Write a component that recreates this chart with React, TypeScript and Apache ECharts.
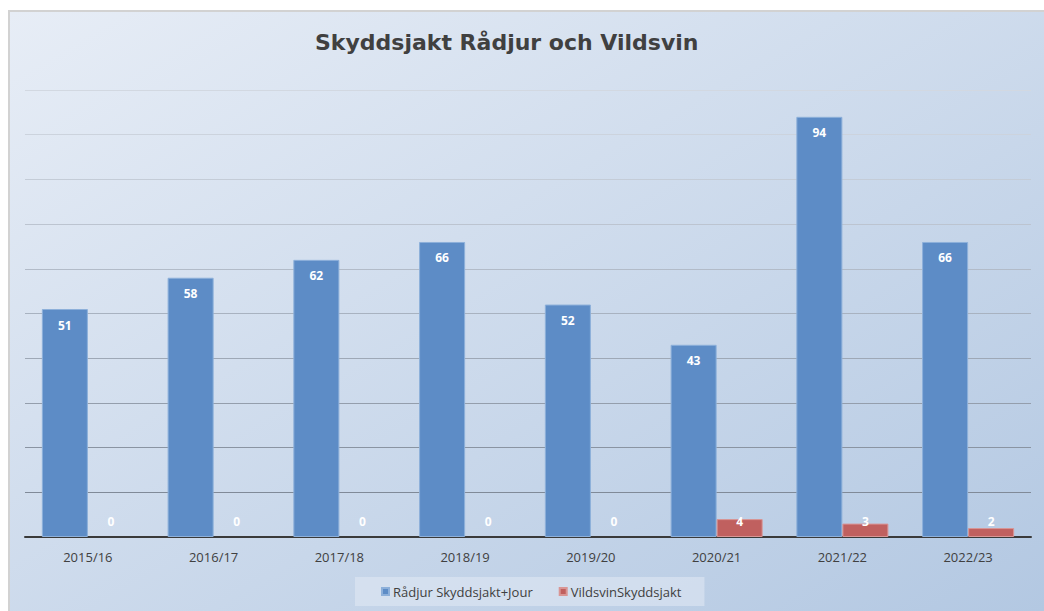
import React, { useEffect, useRef } from "react";
import * as echarts from "echarts";

const categories = ["2015/16", "2016/17", "2017/18", "2018/19", "2019/20", "2020/21", "2021/22", "2022/23"];
const radjur = [51, 58, 62, 66, 52, 43, 94, 66];
const vildsvin = [0, 0, 0, 0, 0, 4, 3, 2];
const seriesNames = ["Rådjur Skyddsjakt+Jour", "VildsvinSkyddsjakt"];
const titleText = "Skyddsjakt Rådjur och Vildsvin";

const FONT = "'Open Sans', 'Liberation Sans', sans-serif";
const TITLE_FONT = "'DejaVu Sans', 'Open Sans', sans-serif";

const gridColors = [
  "#7d8795", "#808a98", "#8a94a2", "#949eac", "#9ea8b6", "#a8b2c0",
  "#b2bbc8", "#bcc4d0", "#c4ccd7", "#ccd3dd", "#d2d8e1",
];

export default function App() {
  const ref = useRef<HTMLDivElement>(null);
  useEffect(() => {
    if (!ref.current) return;
    const chart = echarts.init(ref.current, null, { renderer: "svg" });
    const zeroless = (arr: number[]) =>
      arr.map((v) => (v === 0 ? { value: v, itemStyle: { borderWidth: 0 } } : v));
    chart.setOption({
      animation: false,
      backgroundColor: new echarts.graphic.LinearGradient(0, 0, 1, 1, [
        { offset: 0, color: "#e7edf6" },
        { offset: 1, color: "#b3c8e2" },
      ]),
      title: {
        text: titleText,
        left: 300,
        top: 14,
        textStyle: { fontFamily: TITLE_FONT, fontSize: 22, fontWeight: "bold", color: "#404040" },
      },
      legend: {
        left: 345,
        top: 565,
        padding: [8, 23, 8, 26],
        backgroundColor: "rgba(226,233,244,0.55)",
        itemWidth: 7,
        itemHeight: 7,
        itemGap: 26,
        icon: "rect",
        textStyle: { fontFamily: FONT, fontSize: 13, color: "#404040", padding: [0, 0, 0, -1] },
        data: seriesNames,
      },
      grid: { left: 15, right: 13, top: 78, bottom: 74, containLabel: false },
      xAxis: {
        type: "category",
        data: categories,
        axisLine: { lineStyle: { color: "#3a3a3a", width: 2 } },
        axisTick: { show: false },
        axisLabel: { fontFamily: FONT, fontSize: 13, color: "#404040", margin: 13 },
      },
      yAxis: {
        type: "value",
        min: 0,
        max: 100,
        interval: 10,
        axisLabel: { show: false },
        axisLine: { show: false },
        axisTick: { show: false },
        splitLine: { lineStyle: { color: gridColors, width: 1 } },
      },
      series: [
        {
          name: seriesNames[0],
          type: "bar",
          data: radjur,
          barWidth: "36.6%",
          barGap: "0%",
          itemStyle: { color: "#5d8cc6", borderColor: "#8db0da", borderWidth: 1 },
          label: {
            show: true,
            position: "insideTop",
            distance: 10,
            color: "#ffffff",
            fontFamily: FONT,
            fontSize: 12,
            fontWeight: "bold",
          },
        },
        {
          name: seriesNames[1],
          type: "bar",
          data: zeroless(vildsvin),
          barWidth: "36.6%",
          itemStyle: { color: "#c0605f", borderColor: "#d99594", borderWidth: 1 },
          label: {
            show: true,
            position: "insideBottom",
            distance: 10,
            color: "#ffffff",
            fontFamily: FONT,
            fontSize: 12,
            fontWeight: "bold",
          },
        },
      ],
    });
    return () => chart.dispose();
  }, []);
  return (
    <div
      style={{
        position: "fixed",
        left: 8,
        top: 10,
        borderTop: "2px solid #d2d2d2",
        borderLeft: "2px solid #d2d2d2",
      }}
    >
      <div ref={ref} style={{ width: 1034, height: 599 }} />
    </div>
  );
}
